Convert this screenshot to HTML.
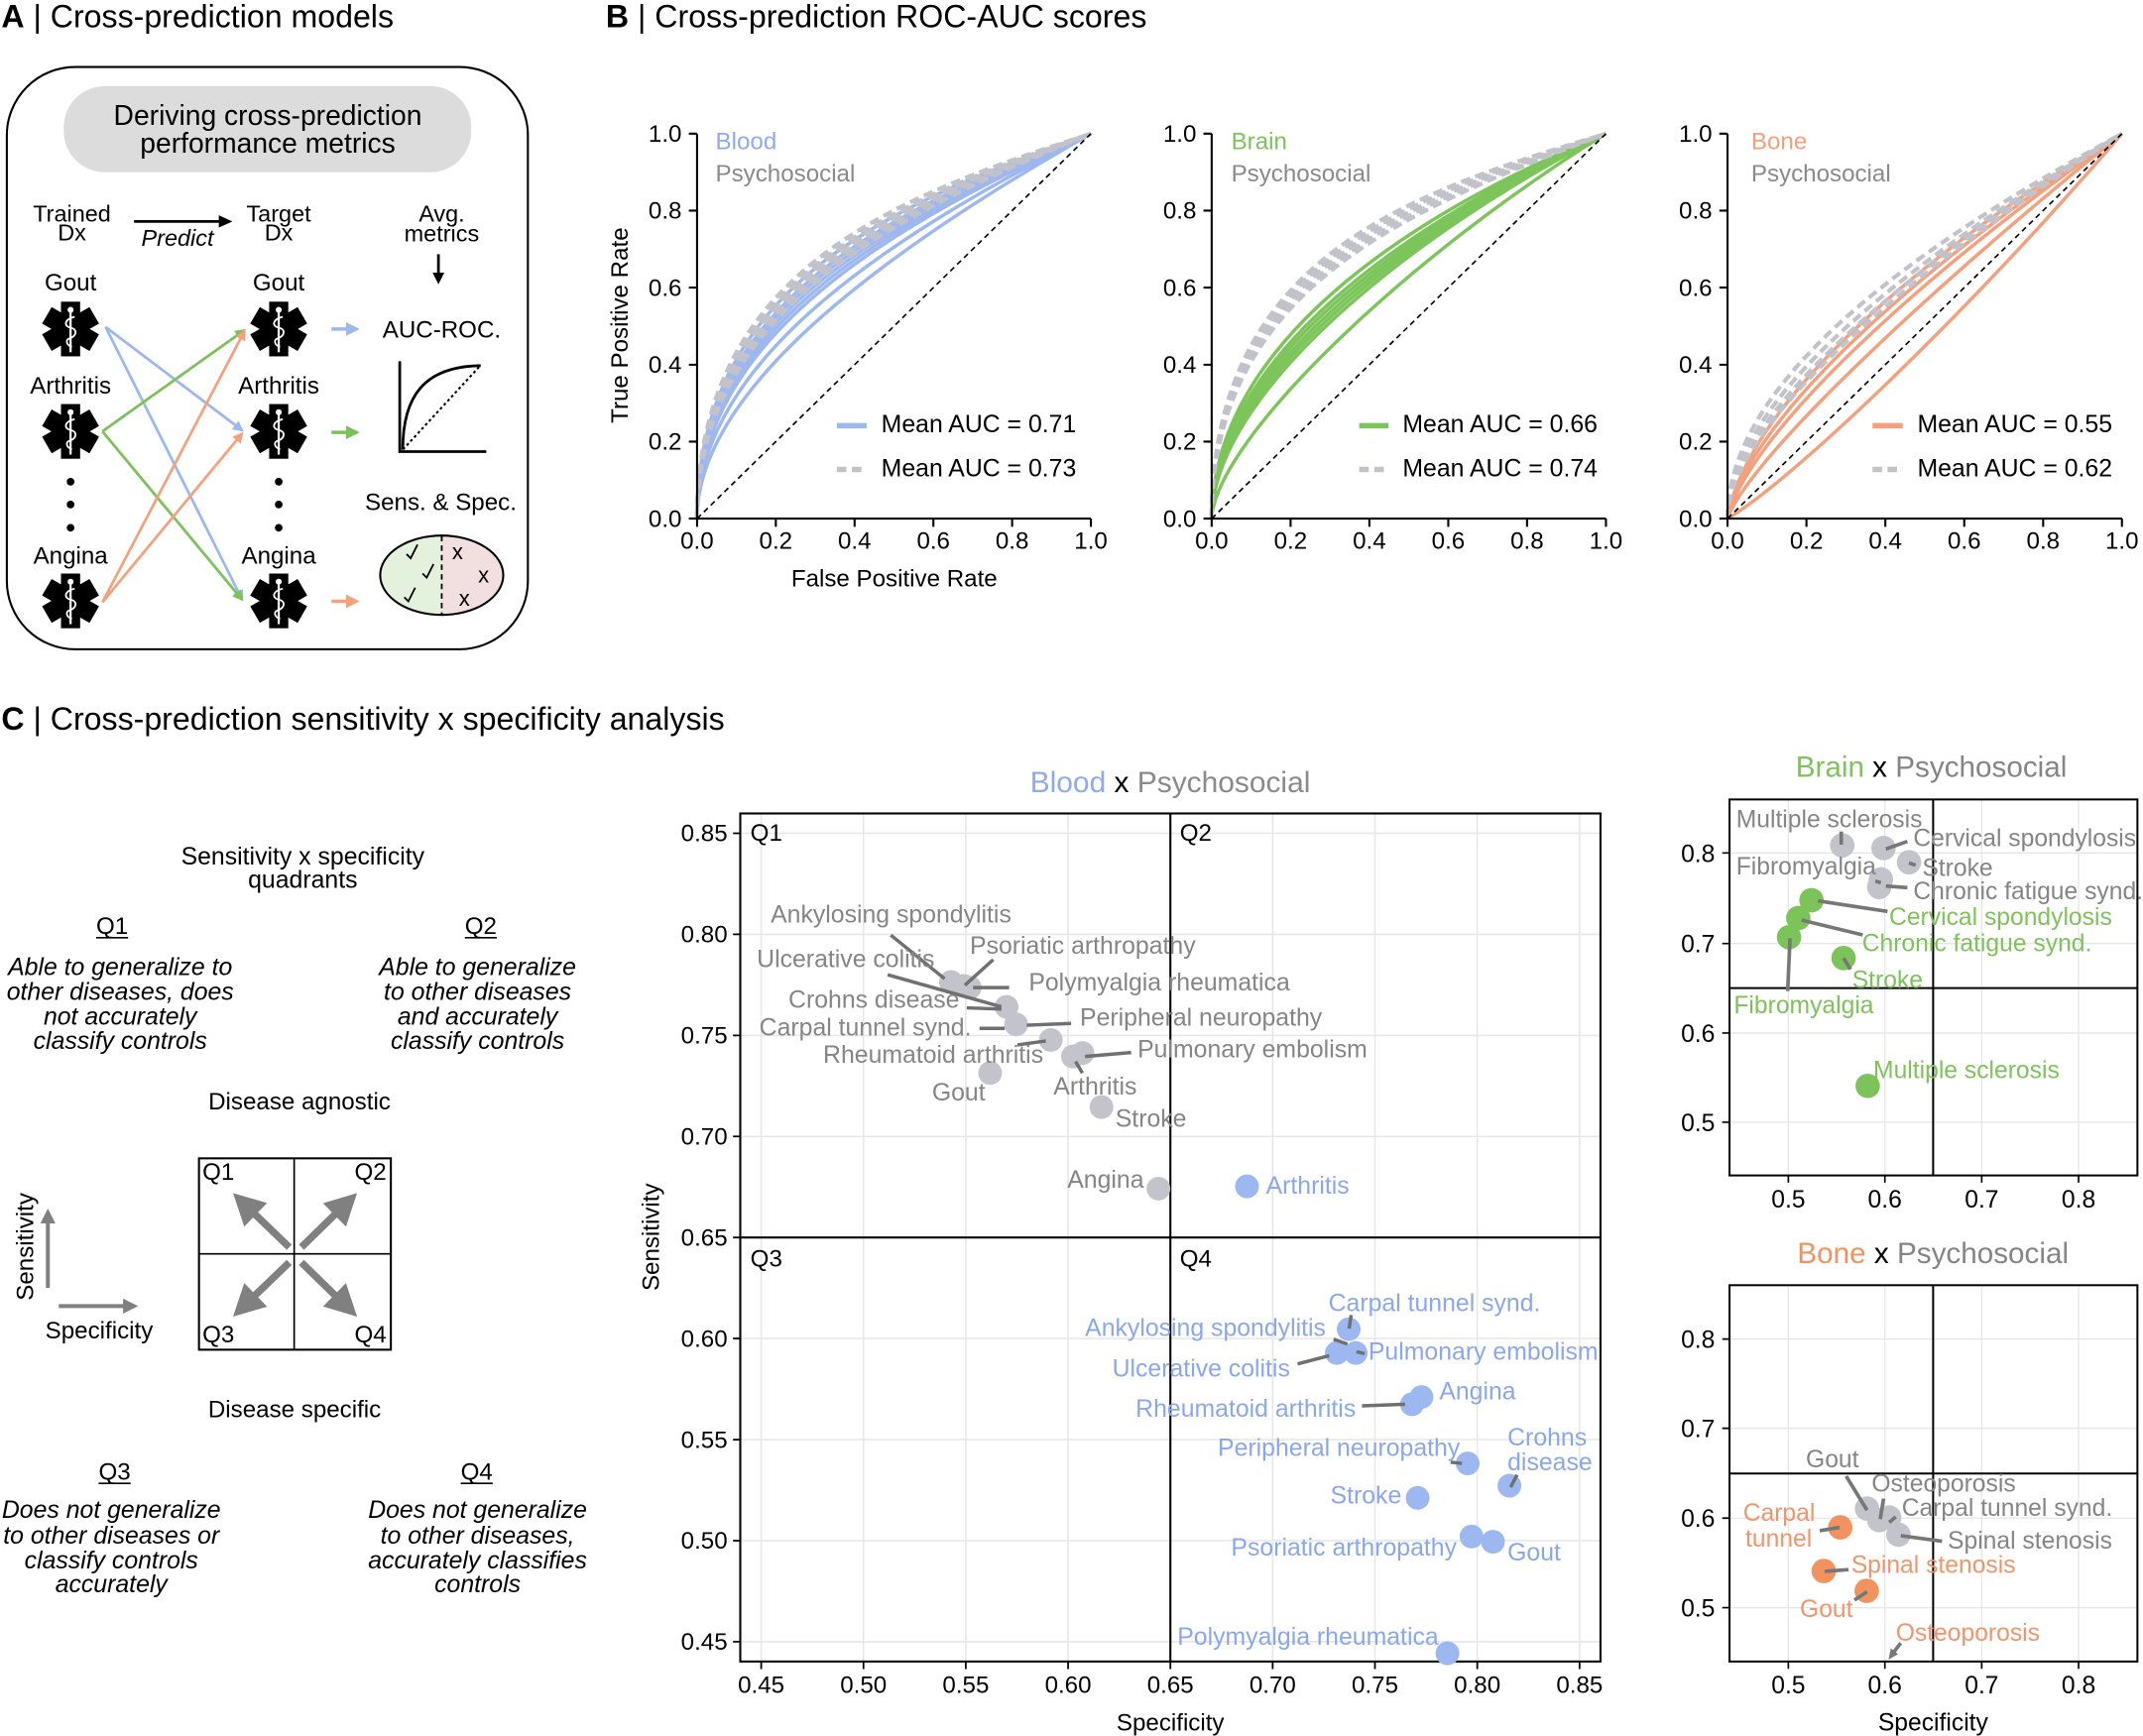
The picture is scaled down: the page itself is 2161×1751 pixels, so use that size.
<!DOCTYPE html>
<html><head><meta charset="utf-8"><style>
html,body{margin:0;padding:0;background:#fff;}
svg{display:block;}
text{font-family:"Liberation Sans",Arial,sans-serif;}
</style></head><body>
<svg width="2161" height="1751" viewBox="0 0 1567 1270" preserveAspectRatio="none" xmlns="http://www.w3.org/2000/svg">
<defs>
<g id="sol">
<rect x="-7" y="-20" width="14" height="40" fill="#000"/>
<rect x="-7" y="-20" width="14" height="40" fill="#000" transform="rotate(60)"/>
<rect x="-7" y="-20" width="14" height="40" fill="#000" transform="rotate(-60)"/>
<line x1="0" y1="-13" x2="0" y2="17" stroke="#fff" stroke-width="1.6"/>
<circle cx="0" cy="-14" r="2.2" fill="#fff"/>
<path d="M3,-9 C-5,-7 -5,-2 0,-1 C5,0 5,5 -1,7 C-4,8 -3,12 1,13" fill="none" stroke="#fff" stroke-width="1.3"/>
</g>
<marker id="mb" viewBox="0 0 10 10" refX="8" refY="5" markerWidth="4" markerHeight="4" orient="auto"><path d="M0,0 L10,5 L0,10 z" fill="#9db8ef"/></marker>
<marker id="mg" viewBox="0 0 10 10" refX="8" refY="5" markerWidth="4" markerHeight="4" orient="auto"><path d="M0,0 L10,5 L0,10 z" fill="#7cc15a"/></marker>
<marker id="mo" viewBox="0 0 10 10" refX="8" refY="5" markerWidth="4" markerHeight="4" orient="auto"><path d="M0,0 L10,5 L0,10 z" fill="#f4a27c"/></marker>
<clipPath id="ell"><ellipse cx="323" cy="420.8" rx="45" ry="29"/></clipPath>
</defs>

<!-- ================= PANEL A ================= -->
<text x="1" y="20" font-size="23.3"><tspan font-weight="bold">A</tspan> | Cross-prediction models</text>
<rect x="5" y="49" width="381" height="426" rx="50" fill="none" stroke="#000" stroke-width="1.5"/>
<rect x="46.6" y="63" width="298" height="63" rx="30" fill="#dcdcdc"/>
<text x="195.8" y="91.3" font-size="20.5" text-anchor="middle">Deriving cross-prediction</text>
<text x="195.8" y="111.7" font-size="20.5" text-anchor="middle">performance metrics</text>

<g font-size="17" text-anchor="middle">
<text x="52.6" y="162">Trained</text><text x="52.6" y="176">Dx</text>
<text x="203.8" y="162">Target</text><text x="203.8" y="176">Dx</text>
<text x="323" y="162">Avg.</text><text x="323" y="176.5">metrics</text>
<text x="129.8" y="180" font-style="italic">Predict</text>
</g>
<line x1="98" y1="162" x2="163" y2="162" stroke="#000" stroke-width="2"/>
<polygon points="170,162 160,157.5 160,166.5" fill="#000"/>
<line x1="320.6" y1="186" x2="320.6" y2="201" stroke="#000" stroke-width="2"/>
<polygon points="320.6,208 316.3,199.5 324.9,199.5" fill="#000"/>

<g font-size="17.5" text-anchor="middle">
<text x="51.6" y="212.4">Gout</text><text x="203.8" y="212.4">Gout</text>
<text x="51.6" y="288">Arthritis</text><text x="203.8" y="288">Arthritis</text>
<text x="51.6" y="412.2">Angina</text><text x="203.8" y="412.2">Angina</text>
</g>
<use href="#sol" x="51.6" y="240.7"/><use href="#sol" x="203.8" y="240.7"/>
<use href="#sol" x="51.6" y="315.6"/><use href="#sol" x="203.8" y="315.6"/>
<use href="#sol" x="51.6" y="439.6"/><use href="#sol" x="203.8" y="439.6"/>
<g fill="#000">
<circle cx="51.6" cy="352.4" r="2.8"/><circle cx="51.6" cy="369.1" r="2.8"/><circle cx="51.6" cy="386.1" r="2.8"/>
<circle cx="203.8" cy="352.4" r="2.8"/><circle cx="203.8" cy="369.1" r="2.8"/><circle cx="203.8" cy="386.1" r="2.8"/>
</g>
<g stroke-width="2" fill="none">
<line x1="77.2" y1="239.2" x2="177" y2="314.8" stroke="#9db8ef" marker-end="url(#mb)"/>
<line x1="77.2" y1="239.2" x2="177" y2="438.4" stroke="#9db8ef" marker-end="url(#mb)"/>
<line x1="74.9" y1="315.6" x2="178.6" y2="241.6" stroke="#7cc15a" marker-end="url(#mg)"/>
<line x1="74.9" y1="315.6" x2="177" y2="438.6" stroke="#7cc15a" marker-end="url(#mg)"/>
<line x1="74.9" y1="440.6" x2="178.8" y2="242.2" stroke="#f4a27c" marker-end="url(#mo)"/>
<line x1="74.9" y1="440.6" x2="177" y2="317.2" stroke="#f4a27c" marker-end="url(#mo)"/>
<line x1="242.4" y1="240.7" x2="261" y2="240.7" stroke="#9db8ef" stroke-width="2.5" marker-end="url(#mb)"/>
<line x1="242.4" y1="316.3" x2="261" y2="316.3" stroke="#7cc15a" stroke-width="2.5" marker-end="url(#mg)"/>
<line x1="242.4" y1="439.9" x2="261" y2="439.9" stroke="#f4a27c" stroke-width="2.5" marker-end="url(#mo)"/>
</g>
<text x="323" y="247" font-size="17.5" text-anchor="middle">AUC-ROC.</text>
<path d="M292.3,264.3 V330.4 H355.6" fill="none" stroke="#000" stroke-width="2"/>
<path d="M294.5,329 C294.5,290 310,268 351.5,267.5" fill="none" stroke="#000" stroke-width="2"/>
<line x1="294.7" y1="328.8" x2="351.2" y2="267.5" stroke="#000" stroke-width="1.5" stroke-dasharray="2 2"/>
<text x="322.3" y="373" font-size="17.5" text-anchor="middle">Sens. &amp; Spec.</text>
<g clip-path="url(#ell)">
<rect x="277" y="390" width="46" height="62" fill="#e4f1dc"/>
<rect x="323" y="390" width="46" height="62" fill="#f2dfdf"/>
</g>
<ellipse cx="323" cy="420.8" rx="45" ry="29" fill="none" stroke="#000" stroke-width="1.5"/>
<line x1="323" y1="392" x2="323" y2="450" stroke="#000" stroke-width="1.3" stroke-dasharray="4 3"/>
<g fill="none" stroke="#000" stroke-width="1.3">
<path d="M297.3,405.4 L300.3,408.4 L305.3,398.4"/>
<path d="M309,419.6 L312,422.6 L317,412.6"/>
<path d="M295.6,436.9 L298.6,439.9 L303.6,429.9"/>
</g>
<g font-size="16" text-anchor="middle">
<text x="334.6" y="409">x</text><text x="353.6" y="426">x</text><text x="339.6" y="443">x</text>
</g>

<!-- ================= PANEL B ================= -->
<text x="443" y="20" font-size="23.3"><tspan font-weight="bold">B</tspan> | Cross-prediction ROC-AUC scores</text>

<!-- Blood -->
<g fill="none" stroke="#9db7ef" stroke-width="2.5">
<path d="M509.7,379.4 C509.7,208.2 653.7,148.5 797.7,97.8"/>
<path d="M509.7,379.4 C509.7,218.3 653.7,152.7 797.7,97.8"/>
<path d="M509.7,379.4 C509.7,224.8 653.7,155.5 797.7,97.8"/>
<path d="M509.7,379.4 C509.7,231.6 653.7,158.3 797.7,97.8"/>
<path d="M509.7,379.4 C509.7,238.3 653.7,161.2 797.7,97.8"/>
<path d="M509.7,379.4 C509.7,245.1 653.7,164.0 797.7,97.8"/>
<path d="M509.7,379.4 C509.7,261.7 653.7,171.0 797.7,97.8"/>
<path d="M509.7,379.4 C509.7,282.0 653.7,179.5 797.7,97.8"/>
</g>
<g fill="none" stroke="#c2c2ca" stroke-width="3" stroke-dasharray="7 4">
<path d="M509.7,379.4 C509.7,198.1 653.7,144.3 797.7,97.8"/>
<path d="M509.7,379.4 C509.7,204.8 653.7,147.1 797.7,97.8"/>
<path d="M509.7,379.4 C509.7,208.2 653.7,148.5 797.7,97.8"/>
<path d="M509.7,379.4 C509.7,211.6 653.7,149.9 797.7,97.8"/>
<path d="M509.7,379.4 C509.7,215.0 653.7,151.3 797.7,97.8"/>
<path d="M509.7,379.4 C509.7,221.7 653.7,154.1 797.7,97.8"/>
<path d="M509.7,379.4 C509.7,228.2 653.7,156.9 797.7,97.8"/>
</g>
<line x1="509.7" y1="379.4" x2="797.7" y2="97.8" stroke="#000" stroke-width="1.2" stroke-dasharray="4 3"/>

<!-- Brain -->
<g fill="none" stroke="#7cc55a" stroke-width="2.5">
<path d="M886,379.4 C887,250.7 1030.2,157.0 1174.3,97.8"/>
<path d="M886,379.4 C887,260.8 1030.2,161.2 1174.3,97.8"/>
<path d="M886,379.4 C887,267.6 1030.2,164.0 1174.3,97.8"/>
<path d="M886,379.4 C887,274.4 1030.2,166.8 1174.3,97.8"/>
<path d="M886,379.4 C887,280.8 1030.2,169.6 1174.3,97.8"/>
<path d="M886,379.4 C887,287.6 1030.2,172.4 1174.3,97.8"/>
<path d="M886,379.4 C889,321.1 1030.2,186.5 1174.3,97.8"/>
</g>
<g fill="none" stroke="#c2c2ca" stroke-width="3" stroke-dasharray="7 4">
<path d="M886,379.4 C886,187.9 1030.2,141.4 1174.3,97.8"/>
<path d="M886,379.4 C886,193.5 1030.2,144.3 1174.3,97.8"/>
<path d="M886,379.4 C886,199.2 1030.2,147.1 1174.3,97.8"/>
<path d="M886,379.4 C886,204.8 1030.2,149.9 1174.3,97.8"/>
<path d="M886,379.4 C886,210.4 1030.2,152.7 1174.3,97.8"/>
</g>
<line x1="886" y1="379.4" x2="1174.3" y2="97.8" stroke="#000" stroke-width="1.2" stroke-dasharray="4 3"/>

<!-- Bone -->
<g fill="none" stroke="#f4a07c" stroke-width="2.5">
<path d="M1263.2,379.4 C1277.6,294.9 1407.4,182.3 1551.6,97.8"/>
<path d="M1263.2,379.4 C1277.6,306.2 1407.4,190.7 1551.6,97.8"/>
<path d="M1263.2,379.4 C1277.6,317.4 1407.4,198.3 1551.6,97.8"/>
<path d="M1263.2,379.4 C1277.6,337.2 1407.4,213.8 1551.6,97.8"/>
<path d="M1263.2,379.4 C1306.5,354.1 1430.5,238.6 1551.6,97.8"/>
</g>
<g fill="none" stroke="#c2c2ca" stroke-width="3" stroke-dasharray="7 4">
<path d="M1263.2,379.4 C1263.2,275.2 1407.4,176.6 1551.6,97.8"/>
<path d="M1263.2,379.4 C1263.2,289.3 1407.4,182.3 1551.6,97.8"/>
<path d="M1263.2,379.4 C1263.2,300.6 1407.4,186.5 1551.6,97.8"/>
<path d="M1263.2,379.4 C1263.2,309.0 1407.4,190.7 1551.6,97.8"/>
</g>
<line x1="1263.2" y1="379.4" x2="1551.6" y2="97.8" stroke="#000" stroke-width="1.2" stroke-dasharray="4 3"/>

<!-- axes B -->
<g fill="none" stroke="#000" stroke-width="1.5">
<path d="M509.7,97.8 V379.4 H797.7"/>
<path d="M503.7,379.4H509.7 M503.7,323.1H509.7 M503.7,266.8H509.7 M503.7,210.4H509.7 M503.7,154.1H509.7 M503.7,97.8H509.7"/>
<path d="M509.7,379.4V385.4 M567.3,379.4V385.4 M624.9,379.4V385.4 M682.5,379.4V385.4 M740.1,379.4V385.4 M797.7,379.4V385.4"/>
<path d="M886,97.8 V379.4 H1174.3"/>
<path d="M880,379.4H886 M880,323.1H886 M880,266.8H886 M880,210.4H886 M880,154.1H886 M880,97.8H886"/>
<path d="M886,379.4V385.4 M943.7,379.4V385.4 M1001.3,379.4V385.4 M1059,379.4V385.4 M1116.6,379.4V385.4 M1174.3,379.4V385.4"/>
<path d="M1263.2,97.8 V379.4 H1551.6"/>
<path d="M1257.2,379.4H1263.2 M1257.2,323.1H1263.2 M1257.2,266.8H1263.2 M1257.2,210.4H1263.2 M1257.2,154.1H1263.2 M1257.2,97.8H1263.2"/>
<path d="M1263.2,379.4V385.4 M1320.9,379.4V385.4 M1378.6,379.4V385.4 M1436.3,379.4V385.4 M1494,379.4V385.4 M1551.6,379.4V385.4"/>
</g>
<g font-size="17.5" text-anchor="end">
<text x="498.5" y="385.4">0.0</text><text x="498.5" y="329.1">0.2</text><text x="498.5" y="272.8">0.4</text><text x="498.5" y="216.4">0.6</text><text x="498.5" y="160.1">0.8</text><text x="498.5" y="103.8">1.0</text>
<text x="874.8" y="385.4">0.0</text><text x="874.8" y="329.1">0.2</text><text x="874.8" y="272.8">0.4</text><text x="874.8" y="216.4">0.6</text><text x="874.8" y="160.1">0.8</text><text x="874.8" y="103.8">1.0</text>
<text x="1252" y="385.4">0.0</text><text x="1252" y="329.1">0.2</text><text x="1252" y="272.8">0.4</text><text x="1252" y="216.4">0.6</text><text x="1252" y="160.1">0.8</text><text x="1252" y="103.8">1.0</text>
</g>
<g font-size="17.5" text-anchor="middle">
<text x="509.7" y="401.3">0.0</text><text x="567.3" y="401.3">0.2</text><text x="624.9" y="401.3">0.4</text><text x="682.5" y="401.3">0.6</text><text x="740.1" y="401.3">0.8</text><text x="797.7" y="401.3">1.0</text>
<text x="886" y="401.3">0.0</text><text x="943.7" y="401.3">0.2</text><text x="1001.3" y="401.3">0.4</text><text x="1059" y="401.3">0.6</text><text x="1116.6" y="401.3">0.8</text><text x="1174.3" y="401.3">1.0</text>
<text x="1263.2" y="401.3">0.0</text><text x="1320.9" y="401.3">0.2</text><text x="1378.6" y="401.3">0.4</text><text x="1436.3" y="401.3">0.6</text><text x="1494" y="401.3">0.8</text><text x="1551.6" y="401.3">1.0</text>
<text x="653.9" y="429">False Positive Rate</text>
<text transform="translate(459,238) rotate(-90)">True Positive Rate</text>
</g>
<g font-size="17.5">
<text x="523.2" y="109" fill="#8eaaf0">Blood</text><text x="523.2" y="132.8" fill="#8a8a8a">Psychosocial</text>
<text x="900.3" y="109" fill="#7cc55a">Brain</text><text x="900.3" y="132.8" fill="#8a8a8a">Psychosocial</text>
<text x="1280.5" y="109" fill="#f4a07c">Bone</text><text x="1280.5" y="132.8" fill="#8a8a8a">Psychosocial</text>
</g>
<g font-size="18">
<text x="644.4" y="316.4">Mean AUC = 0.71</text><text x="644.4" y="348.4">Mean AUC = 0.73</text>
<text x="1025.6" y="316.4">Mean AUC = 0.66</text><text x="1025.6" y="348.4">Mean AUC = 0.74</text>
<text x="1402" y="316.4">Mean AUC = 0.55</text><text x="1402" y="348.4">Mean AUC = 0.62</text>
</g>
<g stroke-width="4">
<line x1="611.9" y1="311.4" x2="633.7" y2="311.4" stroke="#9db7ef"/>
<line x1="611.9" y1="343.4" x2="633.7" y2="343.4" stroke="#c2c2ca" stroke-dasharray="7 4"/>
<line x1="993.9" y1="311.4" x2="1015.3" y2="311.4" stroke="#7cc55a"/>
<line x1="993.9" y1="343.4" x2="1015.3" y2="343.4" stroke="#c2c2ca" stroke-dasharray="7 4"/>
<line x1="1369.2" y1="311.4" x2="1391.3" y2="311.4" stroke="#f4a07c"/>
<line x1="1369.2" y1="343.4" x2="1391.3" y2="343.4" stroke="#c2c2ca" stroke-dasharray="7 4"/>
</g>

<!-- ================= PANEL C ================= -->
<text x="1" y="534" font-size="23.3"><tspan font-weight="bold">C</tspan> | Cross-prediction sensitivity x specificity analysis</text>

<g font-size="17.5" text-anchor="middle">
<text x="221.4" y="632.3" font-size="18">Sensitivity x specificity</text>
<text x="221.4" y="649.5" font-size="18">quadrants</text>
<text x="82" y="683.4">Q1</text><text x="351.6" y="683.4">Q2</text>
<text x="219" y="811.5">Disease agnostic</text>
<text x="215.4" y="1036.9">Disease specific</text>
<text x="83.8" y="1082.6">Q3</text><text x="348.6" y="1082.6">Q4</text>
</g>
<g stroke="#000" stroke-width="1.2">
<line x1="70.3" y1="686" x2="93.7" y2="686"/><line x1="339.9" y1="686" x2="363.3" y2="686"/>
<line x1="72.1" y1="1085.2" x2="95.5" y2="1085.2"/><line x1="336.9" y1="1085.2" x2="360.3" y2="1085.2"/>
</g>
<g font-size="18" font-style="italic" text-anchor="middle">
<text x="87.9" y="713.3">Able to generalize to</text>
<text x="87.9" y="731.5">other diseases, does</text>
<text x="87.9" y="749.6">not accurately</text>
<text x="87.9" y="767.3">classify controls</text>
<text x="349.2" y="713.3">Able to generalize</text>
<text x="349.2" y="731.5">to other diseases</text>
<text x="349.2" y="749.6">and accurately</text>
<text x="349.2" y="767.3">classify controls</text>
<text x="81.4" y="1110.5">Does not generalize</text>
<text x="81.4" y="1129.2">to other diseases or</text>
<text x="81.4" y="1147.4">classify controls</text>
<text x="81.4" y="1165">accurately</text>
<text x="349.2" y="1110.5">Does not generalize</text>
<text x="349.2" y="1129.2">to other diseases,</text>
<text x="349.2" y="1147.4">accurately classifies</text>
<text x="349.2" y="1165">controls</text>
</g>
<!-- quadrant diagram -->
<rect x="145.5" y="847.4" width="140.3" height="140" fill="none" stroke="#000" stroke-width="1.5"/>
<line x1="215.1" y1="847.4" x2="215.1" y2="987.4" stroke="#000" stroke-width="1.2"/>
<line x1="145.5" y1="917.3" x2="285.8" y2="917.3" stroke="#000" stroke-width="1.2"/>
<g font-size="17.5">
<text x="148" y="863.1">Q1</text><text x="282.6" y="863.1" text-anchor="end">Q2</text>
<text x="148" y="982">Q3</text><text x="282.6" y="982" text-anchor="end">Q4</text>
</g>
<g stroke="#808080" stroke-width="5.3">
<line x1="211.5" y1="912.4" x2="185.5" y2="887.4"/>
<line x1="220.4" y1="912.4" x2="246" y2="887.4"/>
<line x1="211.5" y1="923.6" x2="185.5" y2="948.6"/>
<line x1="220.4" y1="923.6" x2="246" y2="948.6"/>
</g>
<g fill="#808080">
<polygon points="170.4,872.8 195.3,880.1 178.6,897.4"/>
<polygon points="261.1,872.8 253,897.4 236.2,880.2"/>
<polygon points="170.4,963.2 178.6,938.6 195.3,955.9"/>
<polygon points="261.1,963.2 236.2,955.8 253,938.6"/>
<polygon points="35,884.1 29.5,895 40.5,895"/>
<polygon points="101,955.5 90,950 90,961"/>
</g>
<line x1="43" y1="955.5" x2="91" y2="955.5" stroke="#808080" stroke-width="2.9"/>
<line x1="35" y1="942.2" x2="35" y2="893" stroke="#808080" stroke-width="2.9"/>
<text font-size="17.5" text-anchor="middle" transform="translate(24.2,912) rotate(-90)">Sensitivity</text>
<text x="33.1" y="979.2" font-size="17.5">Specificity</text>

<!-- ===== Main scatter: Blood x Psychosocial ===== -->
<text x="753.2" y="579.4" font-size="21.7"><tspan fill="#8eaaf0">Blood</tspan><tspan fill="#000"> x </tspan><tspan fill="#8a8a8a">Psychosocial</tspan></text>
<g stroke="#e8e8e8" stroke-width="1.2">
<line x1="556.6" y1="595.1" x2="556.6" y2="1215.5"/><line x1="631.4" y1="595.1" x2="631.4" y2="1215.5"/>
<line x1="706.2" y1="595.1" x2="706.2" y2="1215.5"/><line x1="781" y1="595.1" x2="781" y2="1215.5"/>
<line x1="930.6" y1="595.1" x2="930.6" y2="1215.5"/><line x1="1005.4" y1="595.1" x2="1005.4" y2="1215.5"/>
<line x1="1080.2" y1="595.1" x2="1080.2" y2="1215.5"/><line x1="1155" y1="595.1" x2="1155" y2="1215.5"/>
<line x1="541.3" y1="609.6" x2="1170.3" y2="609.6"/><line x1="541.3" y1="683.5" x2="1170.3" y2="683.5"/>
<line x1="541.3" y1="757.5" x2="1170.3" y2="757.5"/><line x1="541.3" y1="831.4" x2="1170.3" y2="831.4"/>
<line x1="541.3" y1="979.2" x2="1170.3" y2="979.2"/><line x1="541.3" y1="1053.2" x2="1170.3" y2="1053.2"/>
<line x1="541.3" y1="1127.1" x2="1170.3" y2="1127.1"/><line x1="541.3" y1="1201" x2="1170.3" y2="1201"/>
</g>
<rect x="541.3" y="595.1" width="629" height="620.4" fill="none" stroke="#000" stroke-width="1.5"/>
<line x1="855.8" y1="595.1" x2="855.8" y2="1215.5" stroke="#000" stroke-width="1.5"/>
<line x1="541.3" y1="905.3" x2="1170.3" y2="905.3" stroke="#000" stroke-width="1.5"/>
<g stroke="#000" stroke-width="1.3">
<path d="M536,609.6H541.3 M536,683.5H541.3 M536,757.5H541.3 M536,831.4H541.3 M536,905.3H541.3 M536,979.2H541.3 M536,1053.2H541.3 M536,1127.1H541.3 M536,1201H541.3"/>
<path d="M556.6,1215.5V1221 M631.4,1215.5V1221 M706.2,1215.5V1221 M781,1215.5V1221 M855.8,1215.5V1221 M930.6,1215.5V1221 M1005.4,1215.5V1221 M1080.2,1215.5V1221 M1155,1215.5V1221"/>
</g>
<g font-size="17.5" text-anchor="end">
<text x="532" y="615.6">0.85</text><text x="532" y="689.5">0.80</text><text x="532" y="763.5">0.75</text><text x="532" y="837.4">0.70</text><text x="532" y="911.3">0.65</text><text x="532" y="985.2">0.60</text><text x="532" y="1059.2">0.55</text><text x="532" y="1133.1">0.50</text><text x="532" y="1207">0.45</text>
</g>
<g font-size="17.5" text-anchor="middle">
<text x="556.6" y="1238.5">0.45</text><text x="631.4" y="1238.5">0.50</text><text x="706.2" y="1238.5">0.55</text><text x="781" y="1238.5">0.60</text><text x="855.8" y="1238.5">0.65</text><text x="930.6" y="1238.5">0.70</text><text x="1005.4" y="1238.5">0.75</text><text x="1080.2" y="1238.5">0.80</text><text x="1155" y="1238.5">0.85</text>
<text x="855.8" y="1266">Specificity</text>
<text transform="translate(482,905) rotate(-90)">Sensitivity</text>
</g>
<g font-size="17.5">
<text x="548.7" y="615">Q1</text><text x="862.7" y="615">Q2</text>
<text x="548.7" y="926.5">Q3</text><text x="862.7" y="926.5">Q4</text>
</g>
<g fill="#c3c3cc">
<circle cx="695.4" cy="718.4" r="8.7"/><circle cx="704.6" cy="721.3" r="8.7"/><circle cx="709" cy="722.5" r="8.7"/>
<circle cx="736" cy="736.6" r="8.7"/><circle cx="743" cy="749.4" r="8.7"/><circle cx="768.4" cy="760.8" r="8.7"/>
<circle cx="784.6" cy="772.9" r="8.7"/><circle cx="791.5" cy="770.4" r="8.7"/><circle cx="724" cy="785" r="8.7"/>
<circle cx="805.4" cy="809.9" r="8.7"/><circle cx="847.1" cy="869.6" r="8.7"/>
</g>
<g fill="#9db8f0">
<circle cx="911.8" cy="867.9" r="8.7"/>
<circle cx="986.2" cy="972.4" r="8.7"/><circle cx="977.5" cy="989.8" r="8.7"/><circle cx="991.3" cy="989.8" r="8.7"/>
<circle cx="1039.4" cy="1022" r="8.7"/><circle cx="1032.5" cy="1027.3" r="8.7"/><circle cx="1073.2" cy="1070.6" r="8.7"/>
<circle cx="1103.7" cy="1086.9" r="8.7"/><circle cx="1036.6" cy="1095.8" r="8.7"/><circle cx="1076" cy="1124.1" r="8.7"/>
<circle cx="1091.7" cy="1127.9" r="8.7"/><circle cx="1058.4" cy="1209.5" r="8.7"/>
</g>
<g stroke="#707070" stroke-width="2.5">
<line x1="651.4" y1="684.1" x2="690.7" y2="716"/>
<line x1="726.3" y1="702" x2="705.5" y2="720.8"/>
<line x1="737.9" y1="722.5" x2="711.5" y2="722.5"/>
<line x1="649.1" y1="713.1" x2="732.3" y2="736.6"/>
<line x1="706.9" y1="737.3" x2="732.3" y2="738.2"/>
<line x1="783.2" y1="748.7" x2="750.8" y2="750"/>
<line x1="716.2" y1="752.3" x2="734.7" y2="752.3"/>
<line x1="743.9" y1="764.4" x2="764.7" y2="761.5"/>
<line x1="827.1" y1="770" x2="793.4" y2="772.9"/>
<line x1="786.4" y1="776.5" x2="791.5" y2="785"/>
<line x1="988" y1="962" x2="986.5" y2="972"/>
<line x1="975.1" y1="979.7" x2="985.3" y2="983.3"/>
<line x1="991.9" y1="988.9" x2="997.9" y2="990.3"/>
<line x1="948.8" y1="997.8" x2="971.9" y2="991.8"/>
<line x1="995.9" y1="1028.5" x2="1027.4" y2="1027.3"/>
<line x1="1060.7" y1="1069.7" x2="1069" y2="1070.6"/>
<line x1="1109.3" y1="1078.9" x2="1104.6" y2="1088"/>
</g>
<g font-size="18" fill="#858585">
<text x="563.5" y="674.9">Ankylosing spondylitis</text>
<text x="709.2" y="697.9">Psoriatic arthropathy</text>
<text x="553.4" y="707.5">Ulcerative colitis</text>
<text x="752.2" y="724.5">Polymyalgia rheumatica</text>
<text x="576.5" y="737.3">Crohns disease</text>
<text x="789.7" y="750.4">Peripheral neuropathy</text>
<text x="555.2" y="757.6">Carpal tunnel synd.</text>
<text x="831.8" y="773.6">Pulmonary embolism</text>
<text x="601.9" y="777.7">Rheumatoid arthritis</text>
<text x="681.5" y="805">Gout</text>
<text x="770.3" y="800.7">Arthritis</text>
<text x="815.6" y="824.2">Stroke</text>
<text x="780.4" y="868.9">Angina</text>
</g>
<g font-size="18" fill="#8aa7ee">
<text x="925.7" y="873.2">Arthritis</text>
<text x="971.4" y="959.1">Carpal tunnel synd.</text>
<text x="793.4" y="977.3">Ankylosing spondylitis</text>
<text x="1000.6" y="994.9">Pulmonary embolism</text>
<text x="813.3" y="1007">Ulcerative colitis</text>
<text x="1052.4" y="1023.9">Angina</text>
<text x="830.4" y="1036.5">Rheumatoid arthritis</text>
<text x="890.5" y="1065.1">Peripheral neuropathy</text>
<text x="1102.3" y="1057.5">Crohns</text>
<text x="1102.3" y="1075.7">disease</text>
<text x="972.8" y="1100">Stroke</text>
<text x="900.2" y="1138">Psoriatic arthropathy</text>
<text x="1102.3" y="1141.7">Gout</text>
<text x="860.9" y="1203.4">Polymyalgia rheumatica</text>
</g>

<!-- ===== Brain x Psychosocial ===== -->
<g transform="translate(1225.5,537) scale(0.2417)">
<text x="362" y="130" font-size="89"><tspan fill="#7dc35a">Brain</tspan><tspan fill="#000"> x </tspan><tspan fill="#858585">Psychosocial</tspan></text>
<g stroke="#e6e6e6" stroke-width="4">
<line x1="340" y1="198" x2="340" y2="1336"/><line x1="632" y1="198" x2="632" y2="1336"/>
<line x1="925" y1="198" x2="925" y2="1336"/><line x1="1218" y1="198" x2="1218" y2="1336"/>
<line x1="162" y1="360" x2="1396" y2="360"/><line x1="162" y1="634" x2="1396" y2="634"/>
<line x1="162" y1="905" x2="1396" y2="905"/><line x1="162" y1="1175" x2="1396" y2="1175"/>
</g>
<rect x="162" y="198" width="1234" height="1138" fill="none" stroke="#000" stroke-width="6"/>
<line x1="778" y1="198" x2="778" y2="1336" stroke="#000" stroke-width="6"/>
<line x1="162" y1="769" x2="1396" y2="769" stroke="#000" stroke-width="6"/>
<g stroke="#000" stroke-width="5">
<path d="M140,360H162 M140,634H162 M140,905H162 M140,1175H162"/>
<path d="M340,1336V1358 M632,1336V1358 M925,1336V1358 M1218,1336V1358"/>
</g>
<g font-size="74" text-anchor="end">
<text x="118" y="387">0.8</text><text x="118" y="661">0.7</text><text x="118" y="932">0.6</text><text x="118" y="1202">0.5</text>
</g>
<g font-size="74" text-anchor="middle">
<text x="340" y="1433">0.5</text><text x="632" y="1433">0.6</text><text x="925" y="1433">0.7</text><text x="1218" y="1433">0.8</text>
</g>
<g fill="#c3c3cc">
<circle cx="503" cy="337" r="37"/><circle cx="628" cy="345" r="37"/><circle cx="705" cy="388" r="37"/>
<circle cx="620" cy="440" r="37"/><circle cx="615" cy="463" r="37"/>
</g>
<g fill="#7cc35a">
<circle cx="410" cy="503" r="37"/><circle cx="370" cy="557" r="37"/><circle cx="342" cy="615" r="37"/>
<circle cx="507" cy="678" r="37"/><circle cx="580" cy="1065" r="37"/>
</g>
<g stroke="#777" stroke-width="11">
<line x1="500" y1="295" x2="500" y2="335"/><line x1="700" y1="325" x2="635" y2="348"/>
<line x1="705" y1="390" x2="725" y2="397"/><line x1="603" y1="445" x2="620" y2="450"/>
<line x1="635" y1="460" x2="700" y2="465"/>
<line x1="640" y1="537" x2="430" y2="505"/><line x1="565" y1="608" x2="380" y2="563"/>
<line x1="507" y1="678" x2="528" y2="712"/><line x1="345" y1="618" x2="338" y2="778"/>
</g>
<g font-size="74" fill="#858585">
<text x="182" y="282">Multiple sclerosis</text>
<text x="718" y="340">Cervical spondylosis</text>
<text x="745" y="430">Stroke</text>
<text x="182" y="425">Fibromyalgia</text>
<text x="718" y="500">Chronic fatigue synd.</text>
</g>
<g font-size="74" fill="#7dc35a">
<text x="645" y="578">Cervical spondylosis</text>
<text x="563" y="658">Chronic fatigue synd.</text>
<text x="533" y="768">Stroke</text>
<text x="175" y="845">Fibromyalgia</text>
<text x="597" y="1042">Multiple sclerosis</text>
</g>
</g>

<!-- ===== Bone x Psychosocial ===== -->
<g transform="translate(1225.5,892.6) scale(0.2417)">
<text x="367" y="130" font-size="89"><tspan fill="#f2935f">Bone</tspan><tspan fill="#000"> x </tspan><tspan fill="#858585">Psychosocial</tspan></text>
<g stroke="#e6e6e6" stroke-width="4">
<line x1="340" y1="197" x2="340" y2="1336"/><line x1="632" y1="197" x2="632" y2="1336"/>
<line x1="925" y1="197" x2="925" y2="1336"/><line x1="1218" y1="197" x2="1218" y2="1336"/>
<line x1="162" y1="360" x2="1396" y2="360"/><line x1="162" y1="630" x2="1396" y2="630"/>
<line x1="162" y1="902" x2="1396" y2="902"/><line x1="162" y1="1173" x2="1396" y2="1173"/>
</g>
<rect x="162" y="197" width="1234" height="1139" fill="none" stroke="#000" stroke-width="6"/>
<line x1="778" y1="197" x2="778" y2="1336" stroke="#000" stroke-width="6"/>
<line x1="162" y1="767" x2="1396" y2="767" stroke="#000" stroke-width="6"/>
<g stroke="#000" stroke-width="5">
<path d="M140,360H162 M140,630H162 M140,902H162 M140,1173H162"/>
<path d="M340,1336V1358 M632,1336V1358 M925,1336V1358 M1218,1336V1358"/>
</g>
<g font-size="74" text-anchor="end">
<text x="118" y="387">0.8</text><text x="118" y="657">0.7</text><text x="118" y="929">0.6</text><text x="118" y="1200">0.5</text>
</g>
<g font-size="74" text-anchor="middle">
<text x="340" y="1433">0.5</text><text x="632" y="1433">0.6</text><text x="925" y="1433">0.7</text><text x="1218" y="1433">0.8</text>
<text x="778" y="1545">Specificity</text>
</g>
<g fill="#c3c3cc">
<circle cx="578" cy="873" r="37"/><circle cx="615" cy="908" r="37"/><circle cx="645" cy="900" r="37"/><circle cx="673" cy="952" r="37"/>
</g>
<g fill="#f2935f">
<circle cx="497" cy="930" r="37"/><circle cx="447" cy="1062" r="37"/><circle cx="577" cy="1122" r="37"/>
</g>
<g stroke="#777" stroke-width="11">
<line x1="515" y1="775" x2="578" y2="878"/><line x1="628" y1="843" x2="618" y2="905"/>
<line x1="665" y1="898" x2="645" y2="915"/><line x1="805" y1="972" x2="680" y2="955"/>
<line x1="435" y1="940" x2="495" y2="930"/><line x1="450" y1="1063" x2="522" y2="1058"/>
<line x1="540" y1="1150" x2="578" y2="1125"/>
<line x1="680" y1="1280" x2="660" y2="1306"/>
</g>
<polygon points="643,1330 650,1296 672,1314" fill="#777"/>
<g font-size="74" fill="#858585">
<text x="393" y="748">Gout</text>
<text x="592" y="822">Osteoporosis</text>
<text x="683" y="895">Carpal tunnel synd.</text>
<text x="822" y="995">Spinal stenosis</text>
</g>
<g font-size="74" fill="#f0956a">
<text x="203" y="910">Carpal</text>
<text x="210" y="988">tunnel</text>
<text x="530" y="1068">Spinal stenosis</text>
<text x="375" y="1202">Gout</text>
<text x="665" y="1273">Osteoporosis</text>
</g>
</g>
</svg>
</body></html>
